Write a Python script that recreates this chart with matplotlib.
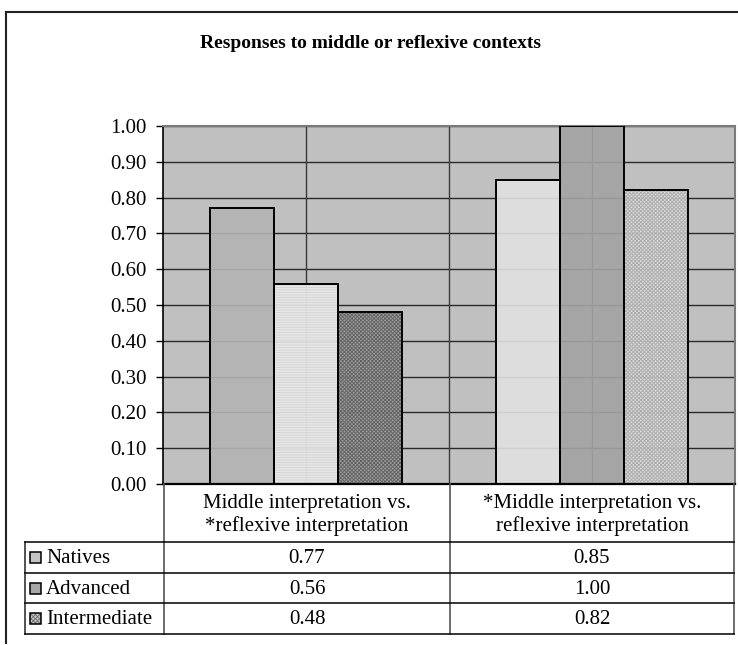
import matplotlib
matplotlib.use("Agg")
import matplotlib.pyplot as plt
import numpy as np
from matplotlib.lines import Line2D
from matplotlib.patches import Rectangle

plt.rcParams['font.family'] = ['Liberation Serif', 'DejaVu Serif']
plt.rcParams['hatch.linewidth'] = 0.6

# ---- data ----
title = "Responses to middle or reflexive contexts"
categories = ["Middle interpretation vs.\n*reflexive interpretation",
              "*Middle interpretation vs.\nreflexive interpretation"]
series = ["Natives", "Advanced", "Intermediate"]
natives = [0.77, 0.85]
advanced = [0.56, 1.00]
intermediate = [0.48, 0.82]
yticks = [0.0, 0.1, 0.2, 0.3, 0.4, 0.5, 0.6, 0.7, 0.8, 0.9, 1.0]
values = [natives, advanced, intermediate]

# styles per series, per category (facecolor, hatch, hatchcolor)
styles = [
    [("#b3b3b3", None, None), ("#e1e1e1", None, None)],
    [("#f4f4f4", "----------", "#cfcfcf"), ("#a3a3a3", None, None)],
    [("#9a9a9a", "xxxxxxxxx", "#5a5a5a"), ("#dcdcdc", "xxxxxxxxx", "#a6a6a6")],
]
legend_styles = [("#c4c4c4", None, None), ("#a8a8a8", None, None),
                 ("#c8c8c8", "xxxxxxxx", "#6a6a6a")]

W, H = 738, 645
fig = plt.figure(figsize=(W / 100, H / 100), dpi=100)

# pixel geometry
pl, pr, pt, pb = 163, 735, 126, 484
ax = fig.add_axes([pl / W, 1 - pb / H, (pr - pl) / W, (pb - pt) / H])
ax.set_facecolor("#c0c0c0")
ax.set_xlim(-0.5, 1.5)
ax.set_ylim(0, 1.0)

# grid
for y in yticks[1:]:
    ax.axhline(y, color="#2a2a2a", lw=1.0, zorder=1)
for x in [0, 0.5, 1.0]:
    ax.axvline(x, color="#3a3a3a", lw=1.0, zorder=1)

x = np.arange(len(categories))
bw = 0.223
for i, vals in enumerate(values):
    off = (i - 1) * bw
    for j in range(len(categories)):
        fc, hatch, hc = styles[i][j]
        ax.bar(x[j] + off, vals[j], bw, color=fc, alpha=0.9, hatch=hatch,
               edgecolor=hc if hc else "none", linewidth=0, zorder=2)
    ax.bar(x + off, vals, bw, facecolor="none", edgecolor="black",
           linewidth=1.4, zorder=3)

ax.set_yticks(yticks)
ax.set_yticklabels([f"{v:.2f}" for v in yticks], fontsize=15)
ax.tick_params(axis="y", direction="out", length=5, width=1, pad=7, color="black")
ax.set_xticks([])
for s in ["top", "right"]:
    ax.spines[s].set_color("#7a7a7a")
    ax.spines[s].set_linewidth(1.5)
ax.spines["left"].set_color("black")
ax.spines["left"].set_linewidth(1.2)
ax.spines["bottom"].set_color("black")
ax.spines["bottom"].set_linewidth(1.6)

# overlay in pixel coordinates for frame, title and data table
ov = fig.add_axes([0, 0, 1, 1], zorder=-1)
ov.set_xlim(0, W)
ov.set_ylim(H, 0)
ov.axis("off")

# outer frame
ov.add_line(Line2D([6, 6], [12, 643], color="#222222", lw=1.5))
ov.add_line(Line2D([6, W], [12, 12], color="#222222", lw=1.5))

ov.text(370, 43, title, ha="center", va="center", fontsize=14, fontweight="bold")

ov2 = fig.add_axes([0, 0, 1, 1], zorder=5)
ov2.set_xlim(0, W)
ov2.set_ylim(H, 0)
ov2.axis("off")
ov2.patch.set_alpha(0)

tl, tc1, tc2, tr = 25, 164, 450, 734
rows = [541.7, 572.7, 603.3, 634]
# vertical lines
for xx in [tc1, tc2, tr]:
    ov2.add_line(Line2D([xx, xx], [pb, rows[-1]], color="#555555", lw=1.2))
ov2.add_line(Line2D([tl, tl], [rows[0], rows[-1]], color="#333333", lw=1.2))
for yy in rows:
    ov2.add_line(Line2D([tl, tr], [yy, yy], color="black", lw=1.1))

cx = [(tc1 + tc2) / 2, (tc2 + tr) / 2]
for j, cat in enumerate(categories):
    ov2.text(cx[j], 515, cat, ha="center", va="center",
             fontsize=15, linespacing=1.2)

for i, name in enumerate(series):
    yc = (rows[i] + rows[i + 1]) / 2
    fc, hatch, hc = legend_styles[i]
    ov2.add_patch(Rectangle((30, yc - 5.5), 11, 11, facecolor=fc, hatch=hatch,
                            edgecolor=hc if hc else "none", lw=0))
    ov2.add_patch(Rectangle((30, yc - 5.5), 11, 11, facecolor="none",
                            edgecolor="black", lw=1.1))
    ov2.text(46, yc + 1, name, ha="left", va="center", fontsize=15)
    for j in range(len(categories)):
        ov2.text(cx[j], yc + 1, f"{values[i][j]:.2f}", ha="center", va="center",
                 fontsize=15)

fig.savefig("out.png", dpi=100, facecolor="white")
